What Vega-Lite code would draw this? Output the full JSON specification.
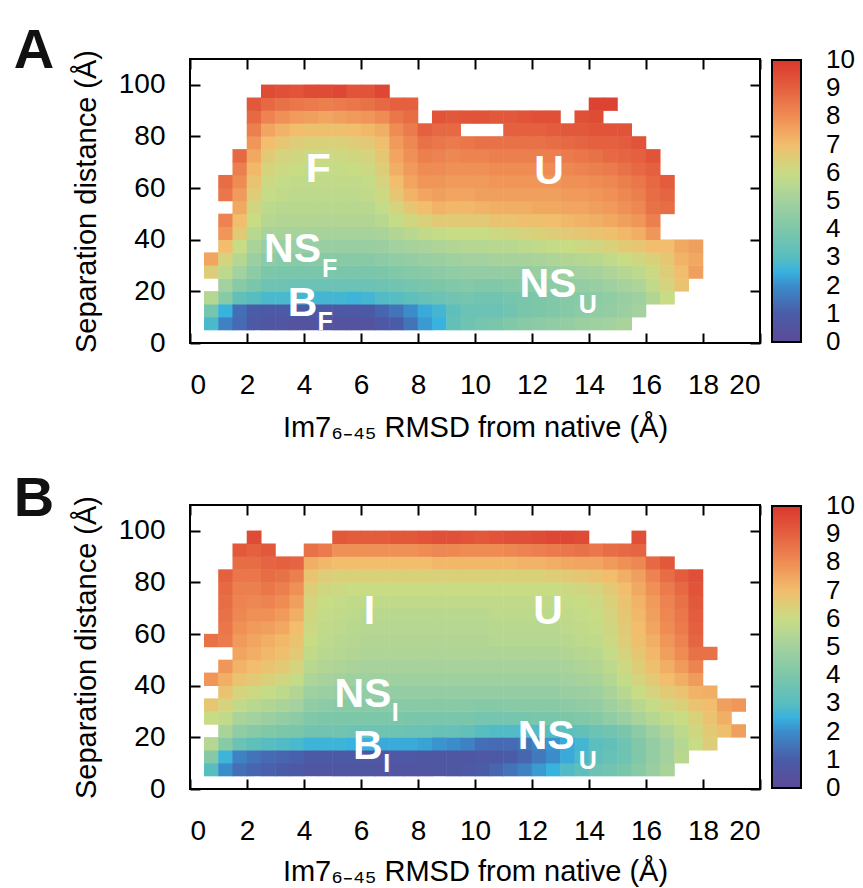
{
"$schema":"https://vega.github.io/schema/vega-lite/v6.json",
"padding":{"left":12,"top":22,"right":5,"bottom":0},
"config":{"font":"Liberation Sans","view":{"stroke":"black","strokeWidth":2},
"axis":{"grid":false,"domain":false,"tickColor":"black","tickWidth":2,"tickSize":-10,"labelColor":"black","labelFontSize":28,"titleFontSize":29,"titleFontWeight":"normal","titleColor":"black"}},
"datasets":{
"a":[
{"x":0.75,"y":7.5,"v":2.8},{"x":0.75,"y":12.5,"v":3.8},{"x":0.75,"y":17.5,"v":5.5},{"x":0.75,"y":27.5,"v":6.5},{"x":0.75,"y":32.5,"v":7.5},
{"x":1.25,"y":7.5,"v":1.8},{"x":1.25,"y":12.5,"v":2.5},{"x":1.25,"y":17.5,"v":4.3},{"x":1.25,"y":22.5,"v":5.0},{"x":1.25,"y":27.5,"v":5.7},{"x":1.25,"y":32.5,"v":6.3},{"x":1.25,"y":37.5,"v":7.0},{"x":1.25,"y":42.5,"v":7.8},{"x":1.25,"y":47.5,"v":8.2},{"x":1.25,"y":57.5,"v":8.5},{"x":1.25,"y":62.5,"v":8.7},
{"x":1.75,"y":7.5,"v":1.3},{"x":1.75,"y":12.5,"v":1.4},{"x":1.75,"y":17.5,"v":3.3},{"x":1.75,"y":22.5,"v":4.3},{"x":1.75,"y":27.5,"v":5.0},{"x":1.75,"y":32.5,"v":5.5},{"x":1.75,"y":37.5,"v":6.0},{"x":1.75,"y":42.5,"v":6.6},{"x":1.75,"y":47.5,"v":7.0},{"x":1.75,"y":52.5,"v":7.4},{"x":1.75,"y":57.5,"v":7.7},{"x":1.75,"y":62.5,"v":8.0},{"x":1.75,"y":67.5,"v":8.3},{"x":1.75,"y":72.5,"v":8.8},
{"x":2.25,"y":7.5,"v":0.9},{"x":2.25,"y":12.5,"v":1.0},{"x":2.25,"y":17.5,"v":3.0},{"x":2.25,"y":22.5,"v":3.9},{"x":2.25,"y":27.5,"v":4.4},{"x":2.25,"y":32.5,"v":4.8},{"x":2.25,"y":37.5,"v":5.2},{"x":2.25,"y":42.5,"v":5.6},{"x":2.25,"y":47.5,"v":6.0},{"x":2.25,"y":52.5,"v":6.2},{"x":2.25,"y":57.5,"v":6.5},{"x":2.25,"y":62.5,"v":6.8},{"x":2.25,"y":67.5,"v":7.1},{"x":2.25,"y":72.5,"v":7.4},{"x":2.25,"y":77.5,"v":7.8},{"x":2.25,"y":82.5,"v":8.3},{"x":2.25,"y":87.5,"v":8.8},{"x":2.25,"y":92.5,"v":9.2},
{"x":2.75,"y":7.5,"v":0.7},{"x":2.75,"y":12.5,"v":0.9},{"x":2.75,"y":17.5,"v":2.8},{"x":2.75,"y":22.5,"v":3.6},{"x":2.75,"y":27.5,"v":4.0},{"x":2.75,"y":32.5,"v":4.4},{"x":2.75,"y":37.5,"v":4.8},{"x":2.75,"y":42.5,"v":5.2},{"x":2.75,"y":47.5,"v":5.5},{"x":2.75,"y":52.5,"v":5.7},{"x":2.75,"y":57.5,"v":5.9},{"x":2.75,"y":62.5,"v":6.1},{"x":2.75,"y":67.5,"v":6.3},{"x":2.75,"y":72.5,"v":6.6},{"x":2.75,"y":77.5,"v":7.0},{"x":2.75,"y":82.5,"v":7.5},{"x":2.75,"y":87.5,"v":8.2},{"x":2.75,"y":92.5,"v":8.8},{"x":2.75,"y":97.5,"v":9.5},
{"x":3.25,"y":7.5,"v":0.6},{"x":3.25,"y":12.5,"v":0.9},{"x":3.25,"y":17.5,"v":2.8},{"x":3.25,"y":22.5,"v":3.6},{"x":3.25,"y":27.5,"v":3.9},{"x":3.25,"y":32.5,"v":4.3},{"x":3.25,"y":37.5,"v":4.7},{"x":3.25,"y":42.5,"v":5.1},{"x":3.25,"y":47.5,"v":5.4},{"x":3.25,"y":52.5,"v":5.6},{"x":3.25,"y":57.5,"v":5.8},{"x":3.25,"y":62.5,"v":5.9},{"x":3.25,"y":67.5,"v":6.1},{"x":3.25,"y":72.5,"v":6.3},{"x":3.25,"y":77.5,"v":6.7},{"x":3.25,"y":82.5,"v":7.2},{"x":3.25,"y":87.5,"v":7.9},{"x":3.25,"y":92.5,"v":8.6},{"x":3.25,"y":97.5,"v":9.4},
{"x":3.75,"y":7.5,"v":0.5},{"x":3.75,"y":12.5,"v":0.9},{"x":3.75,"y":17.5,"v":2.7},{"x":3.75,"y":22.5,"v":3.5},{"x":3.75,"y":27.5,"v":3.9},{"x":3.75,"y":32.5,"v":4.3},{"x":3.75,"y":37.5,"v":4.7},{"x":3.75,"y":42.5,"v":5.1},{"x":3.75,"y":47.5,"v":5.4},{"x":3.75,"y":52.5,"v":5.6},{"x":3.75,"y":57.5,"v":5.7},{"x":3.75,"y":62.5,"v":5.8},{"x":3.75,"y":67.5,"v":6.0},{"x":3.75,"y":72.5,"v":6.2},{"x":3.75,"y":77.5,"v":6.5},{"x":3.75,"y":82.5,"v":7.0},{"x":3.75,"y":87.5,"v":7.7},{"x":3.75,"y":92.5,"v":8.5},{"x":3.75,"y":97.5,"v":9.3},
{"x":4.25,"y":7.5,"v":0.5},{"x":4.25,"y":12.5,"v":0.8},{"x":4.25,"y":17.5,"v":2.7},{"x":4.25,"y":22.5,"v":3.5},{"x":4.25,"y":27.5,"v":3.9},{"x":4.25,"y":32.5,"v":4.3},{"x":4.25,"y":37.5,"v":4.7},{"x":4.25,"y":42.5,"v":5.1},{"x":4.25,"y":47.5,"v":5.4},{"x":4.25,"y":52.5,"v":5.6},{"x":4.25,"y":57.5,"v":5.7},{"x":4.25,"y":62.5,"v":5.8},{"x":4.25,"y":67.5,"v":5.9},{"x":4.25,"y":72.5,"v":6.1},{"x":4.25,"y":77.5,"v":6.4},{"x":4.25,"y":82.5,"v":6.9},{"x":4.25,"y":87.5,"v":7.6},{"x":4.25,"y":92.5,"v":8.4},{"x":4.25,"y":97.5,"v":9.5},
{"x":4.75,"y":7.5,"v":0.5},{"x":4.75,"y":12.5,"v":0.8},{"x":4.75,"y":17.5,"v":2.7},{"x":4.75,"y":22.5,"v":3.5},{"x":4.75,"y":27.5,"v":3.9},{"x":4.75,"y":32.5,"v":4.3},{"x":4.75,"y":37.5,"v":4.7},{"x":4.75,"y":42.5,"v":5.1},{"x":4.75,"y":47.5,"v":5.4},{"x":4.75,"y":52.5,"v":5.6},{"x":4.75,"y":57.5,"v":5.7},{"x":4.75,"y":62.5,"v":5.8},{"x":4.75,"y":67.5,"v":5.9},{"x":4.75,"y":72.5,"v":6.1},{"x":4.75,"y":77.5,"v":6.4},{"x":4.75,"y":82.5,"v":6.9},{"x":4.75,"y":87.5,"v":7.5},{"x":4.75,"y":92.5,"v":8.3},{"x":4.75,"y":97.5,"v":9.5},
{"x":5.25,"y":7.5,"v":0.5},{"x":5.25,"y":12.5,"v":0.8},{"x":5.25,"y":17.5,"v":2.7},{"x":5.25,"y":22.5,"v":3.5},{"x":5.25,"y":27.5,"v":3.9},{"x":5.25,"y":32.5,"v":4.3},{"x":5.25,"y":37.5,"v":4.7},{"x":5.25,"y":42.5,"v":5.1},{"x":5.25,"y":47.5,"v":5.4},{"x":5.25,"y":52.5,"v":5.6},{"x":5.25,"y":57.5,"v":5.7},{"x":5.25,"y":62.5,"v":5.8},{"x":5.25,"y":67.5,"v":5.9},{"x":5.25,"y":72.5,"v":6.1},{"x":5.25,"y":77.5,"v":6.4},{"x":5.25,"y":82.5,"v":6.9},{"x":5.25,"y":87.5,"v":7.6},{"x":5.25,"y":92.5,"v":8.4},{"x":5.25,"y":97.5,"v":9.6},
{"x":5.75,"y":7.5,"v":0.5},{"x":5.75,"y":12.5,"v":0.8},{"x":5.75,"y":17.5,"v":2.6},{"x":5.75,"y":22.5,"v":3.5},{"x":5.75,"y":27.5,"v":3.9},{"x":5.75,"y":32.5,"v":4.3},{"x":5.75,"y":37.5,"v":4.7},{"x":5.75,"y":42.5,"v":5.1},{"x":5.75,"y":47.5,"v":5.4},{"x":5.75,"y":52.5,"v":5.6},{"x":5.75,"y":57.5,"v":5.7},{"x":5.75,"y":62.5,"v":5.8},{"x":5.75,"y":67.5,"v":6.0},{"x":5.75,"y":72.5,"v":6.2},{"x":5.75,"y":77.5,"v":6.5},{"x":5.75,"y":82.5,"v":7.0},{"x":5.75,"y":87.5,"v":7.7},{"x":5.75,"y":92.5,"v":8.5},{"x":5.75,"y":97.5,"v":9.3},
{"x":6.25,"y":7.5,"v":0.5},{"x":6.25,"y":12.5,"v":0.9},{"x":6.25,"y":17.5,"v":2.7},{"x":6.25,"y":22.5,"v":3.5},{"x":6.25,"y":27.5,"v":3.9},{"x":6.25,"y":32.5,"v":4.3},{"x":6.25,"y":37.5,"v":4.7},{"x":6.25,"y":42.5,"v":5.1},{"x":6.25,"y":47.5,"v":5.4},{"x":6.25,"y":52.5,"v":5.6},{"x":6.25,"y":57.5,"v":5.8},{"x":6.25,"y":62.5,"v":5.9},{"x":6.25,"y":67.5,"v":6.1},{"x":6.25,"y":72.5,"v":6.3},{"x":6.25,"y":77.5,"v":6.6},{"x":6.25,"y":82.5,"v":7.1},{"x":6.25,"y":87.5,"v":7.8},{"x":6.25,"y":92.5,"v":8.6},{"x":6.25,"y":97.5,"v":9.3},
{"x":6.75,"y":7.5,"v":0.8},{"x":6.75,"y":12.5,"v":1.2},{"x":6.75,"y":17.5,"v":2.9},{"x":6.75,"y":22.5,"v":3.6},{"x":6.75,"y":27.5,"v":4.0},{"x":6.75,"y":32.5,"v":4.4},{"x":6.75,"y":37.5,"v":4.8},{"x":6.75,"y":42.5,"v":5.2},{"x":6.75,"y":47.5,"v":5.6},{"x":6.75,"y":52.5,"v":5.9},{"x":6.75,"y":57.5,"v":6.1},{"x":6.75,"y":62.5,"v":6.3},{"x":6.75,"y":67.5,"v":6.5},{"x":6.75,"y":72.5,"v":6.7},{"x":6.75,"y":77.5,"v":6.9},{"x":6.75,"y":82.5,"v":7.3},{"x":6.75,"y":87.5,"v":8.0},{"x":6.75,"y":92.5,"v":8.8},{"x":6.75,"y":97.5,"v":9.6},
{"x":7.25,"y":7.5,"v":1.0},{"x":7.25,"y":12.5,"v":1.5},{"x":7.25,"y":17.5,"v":3.0},{"x":7.25,"y":22.5,"v":3.7},{"x":7.25,"y":27.5,"v":4.1},{"x":7.25,"y":32.5,"v":4.5},{"x":7.25,"y":37.5,"v":5.0},{"x":7.25,"y":42.5,"v":5.4},{"x":7.25,"y":47.5,"v":5.9},{"x":7.25,"y":52.5,"v":6.3},{"x":7.25,"y":57.5,"v":6.7},{"x":7.25,"y":62.5,"v":7.0},{"x":7.25,"y":67.5,"v":7.3},{"x":7.25,"y":72.5,"v":7.5},{"x":7.25,"y":77.5,"v":7.7},{"x":7.25,"y":82.5,"v":8.0},{"x":7.25,"y":87.5,"v":8.5},{"x":7.25,"y":92.5,"v":9.0},
{"x":7.75,"y":7.5,"v":1.5},{"x":7.75,"y":12.5,"v":2.0},{"x":7.75,"y":17.5,"v":3.2},{"x":7.75,"y":22.5,"v":3.8},{"x":7.75,"y":27.5,"v":4.2},{"x":7.75,"y":32.5,"v":4.6},{"x":7.75,"y":37.5,"v":5.1},{"x":7.75,"y":42.5,"v":5.6},{"x":7.75,"y":47.5,"v":6.2},{"x":7.75,"y":52.5,"v":6.7},{"x":7.75,"y":57.5,"v":7.2},{"x":7.75,"y":62.5,"v":7.5},{"x":7.75,"y":67.5,"v":7.7},{"x":7.75,"y":72.5,"v":7.9},{"x":7.75,"y":77.5,"v":8.1},{"x":7.75,"y":82.5,"v":8.4},{"x":7.75,"y":87.5,"v":8.7},{"x":7.75,"y":92.5,"v":9.0},
{"x":8.25,"y":7.5,"v":2.2},{"x":8.25,"y":12.5,"v":2.4},{"x":8.25,"y":17.5,"v":3.4},{"x":8.25,"y":22.5,"v":3.9},{"x":8.25,"y":27.5,"v":4.3},{"x":8.25,"y":32.5,"v":4.7},{"x":8.25,"y":37.5,"v":5.2},{"x":8.25,"y":42.5,"v":5.8},{"x":8.25,"y":47.5,"v":6.4},{"x":8.25,"y":52.5,"v":7.0},{"x":8.25,"y":57.5,"v":7.5},{"x":8.25,"y":62.5,"v":7.8},{"x":8.25,"y":67.5,"v":8.0},{"x":8.25,"y":72.5,"v":8.3},{"x":8.25,"y":77.5,"v":8.6},{"x":8.25,"y":82.5,"v":9.0},
{"x":8.75,"y":7.5,"v":2.5},{"x":8.75,"y":12.5,"v":2.7},{"x":8.75,"y":17.5,"v":3.5},{"x":8.75,"y":22.5,"v":4.0},{"x":8.75,"y":27.5,"v":4.4},{"x":8.75,"y":32.5,"v":4.8},{"x":8.75,"y":37.5,"v":5.3},{"x":8.75,"y":42.5,"v":5.9},{"x":8.75,"y":47.5,"v":6.6},{"x":8.75,"y":52.5,"v":7.2},{"x":8.75,"y":57.5,"v":7.6},{"x":8.75,"y":62.5,"v":7.8},{"x":8.75,"y":67.5,"v":8.0},{"x":8.75,"y":72.5,"v":8.2},{"x":8.75,"y":77.5,"v":8.5},{"x":8.75,"y":82.5,"v":8.8},{"x":8.75,"y":87.5,"v":9.3},
{"x":9.25,"y":7.5,"v":3.3},{"x":9.25,"y":12.5,"v":3.2},{"x":9.25,"y":17.5,"v":3.7},{"x":9.25,"y":22.5,"v":4.1},{"x":9.25,"y":27.5,"v":4.5},{"x":9.25,"y":32.5,"v":4.9},{"x":9.25,"y":37.5,"v":5.4},{"x":9.25,"y":42.5,"v":6.0},{"x":9.25,"y":47.5,"v":6.6},{"x":9.25,"y":52.5,"v":7.1},{"x":9.25,"y":57.5,"v":7.5},{"x":9.25,"y":62.5,"v":7.7},{"x":9.25,"y":67.5,"v":7.9},{"x":9.25,"y":72.5,"v":8.1},{"x":9.25,"y":77.5,"v":8.4},{"x":9.25,"y":82.5,"v":8.8},{"x":9.25,"y":87.5,"v":9.2},
{"x":9.75,"y":7.5,"v":3.6},{"x":9.75,"y":12.5,"v":3.5},{"x":9.75,"y":17.5,"v":3.8},{"x":9.75,"y":22.5,"v":4.2},{"x":9.75,"y":27.5,"v":4.6},{"x":9.75,"y":32.5,"v":5.0},{"x":9.75,"y":37.5,"v":5.5},{"x":9.75,"y":42.5,"v":6.0},{"x":9.75,"y":47.5,"v":6.6},{"x":9.75,"y":52.5,"v":7.1},{"x":9.75,"y":57.5,"v":7.5},{"x":9.75,"y":62.5,"v":7.7},{"x":9.75,"y":67.5,"v":7.9},{"x":9.75,"y":72.5,"v":8.2},{"x":9.75,"y":77.5,"v":8.5},{"x":9.75,"y":87.5,"v":9.3},
{"x":10.25,"y":7.5,"v":3.8},{"x":10.25,"y":12.5,"v":3.5},{"x":10.25,"y":17.5,"v":3.7},{"x":10.25,"y":22.5,"v":4.1},{"x":10.25,"y":27.5,"v":4.6},{"x":10.25,"y":32.5,"v":5.0},{"x":10.25,"y":37.5,"v":5.5},{"x":10.25,"y":42.5,"v":6.0},{"x":10.25,"y":47.5,"v":6.6},{"x":10.25,"y":52.5,"v":7.2},{"x":10.25,"y":57.5,"v":7.6},{"x":10.25,"y":62.5,"v":7.7},{"x":10.25,"y":67.5,"v":7.9},{"x":10.25,"y":72.5,"v":8.2},{"x":10.25,"y":77.5,"v":8.6},{"x":10.25,"y":87.5,"v":9.3},
{"x":10.75,"y":7.5,"v":3.9},{"x":10.75,"y":12.5,"v":3.5},{"x":10.75,"y":17.5,"v":3.7},{"x":10.75,"y":22.5,"v":4.1},{"x":10.75,"y":27.5,"v":4.6},{"x":10.75,"y":32.5,"v":5.1},{"x":10.75,"y":37.5,"v":5.6},{"x":10.75,"y":42.5,"v":6.1},{"x":10.75,"y":47.5,"v":6.8},{"x":10.75,"y":52.5,"v":7.3},{"x":10.75,"y":57.5,"v":7.6},{"x":10.75,"y":62.5,"v":7.8},{"x":10.75,"y":67.5,"v":8.0},{"x":10.75,"y":72.5,"v":8.3},{"x":10.75,"y":77.5,"v":8.6},{"x":10.75,"y":87.5,"v":9.2},
{"x":11.25,"y":7.5,"v":4.1},{"x":11.25,"y":12.5,"v":3.7},{"x":11.25,"y":17.5,"v":3.8},{"x":11.25,"y":22.5,"v":4.2},{"x":11.25,"y":27.5,"v":4.6},{"x":11.25,"y":32.5,"v":5.1},{"x":11.25,"y":37.5,"v":5.6},{"x":11.25,"y":42.5,"v":6.2},{"x":11.25,"y":47.5,"v":6.8},{"x":11.25,"y":52.5,"v":7.3},{"x":11.25,"y":57.5,"v":7.6},{"x":11.25,"y":62.5,"v":7.8},{"x":11.25,"y":67.5,"v":8.0},{"x":11.25,"y":72.5,"v":8.3},{"x":11.25,"y":77.5,"v":8.6},{"x":11.25,"y":82.5,"v":9.0},{"x":11.25,"y":87.5,"v":9.2},
{"x":11.75,"y":7.5,"v":4.3},{"x":11.75,"y":12.5,"v":3.9},{"x":11.75,"y":17.5,"v":3.9},{"x":11.75,"y":22.5,"v":4.3},{"x":11.75,"y":27.5,"v":4.6},{"x":11.75,"y":32.5,"v":5.1},{"x":11.75,"y":37.5,"v":5.7},{"x":11.75,"y":42.5,"v":6.3},{"x":11.75,"y":47.5,"v":6.9},{"x":11.75,"y":52.5,"v":7.3},{"x":11.75,"y":57.5,"v":7.6},{"x":11.75,"y":62.5,"v":7.8},{"x":11.75,"y":67.5,"v":8.0},{"x":11.75,"y":72.5,"v":8.3},{"x":11.75,"y":77.5,"v":8.6},{"x":11.75,"y":82.5,"v":9.0},{"x":11.75,"y":87.5,"v":9.3},
{"x":12.25,"y":7.5,"v":4.4},{"x":12.25,"y":12.5,"v":4.0},{"x":12.25,"y":17.5,"v":4.0},{"x":12.25,"y":22.5,"v":4.3},{"x":12.25,"y":27.5,"v":4.7},{"x":12.25,"y":32.5,"v":5.2},{"x":12.25,"y":37.5,"v":5.8},{"x":12.25,"y":42.5,"v":6.4},{"x":12.25,"y":47.5,"v":6.9},{"x":12.25,"y":52.5,"v":7.4},{"x":12.25,"y":57.5,"v":7.6},{"x":12.25,"y":62.5,"v":7.8},{"x":12.25,"y":67.5,"v":8.0},{"x":12.25,"y":72.5,"v":8.3},{"x":12.25,"y":77.5,"v":8.6},{"x":12.25,"y":82.5,"v":9.0},{"x":12.25,"y":87.5,"v":9.4},
{"x":12.75,"y":7.5,"v":4.5},{"x":12.75,"y":12.5,"v":4.1},{"x":12.75,"y":17.5,"v":4.1},{"x":12.75,"y":22.5,"v":4.4},{"x":12.75,"y":27.5,"v":4.8},{"x":12.75,"y":32.5,"v":5.3},{"x":12.75,"y":37.5,"v":5.9},{"x":12.75,"y":42.5,"v":6.5},{"x":12.75,"y":47.5,"v":7.0},{"x":12.75,"y":52.5,"v":7.4},{"x":12.75,"y":57.5,"v":7.6},{"x":12.75,"y":62.5,"v":7.8},{"x":12.75,"y":67.5,"v":8.0},{"x":12.75,"y":72.5,"v":8.3},{"x":12.75,"y":77.5,"v":8.7},{"x":12.75,"y":82.5,"v":9.1},{"x":12.75,"y":87.5,"v":9.4},
{"x":13.25,"y":7.5,"v":4.6},{"x":13.25,"y":12.5,"v":4.2},{"x":13.25,"y":17.5,"v":4.2},{"x":13.25,"y":22.5,"v":4.5},{"x":13.25,"y":27.5,"v":4.9},{"x":13.25,"y":32.5,"v":5.4},{"x":13.25,"y":37.5,"v":6.0},{"x":13.25,"y":42.5,"v":6.6},{"x":13.25,"y":47.5,"v":7.1},{"x":13.25,"y":52.5,"v":7.5},{"x":13.25,"y":57.5,"v":7.7},{"x":13.25,"y":62.5,"v":7.9},{"x":13.25,"y":67.5,"v":8.1},{"x":13.25,"y":72.5,"v":8.4},{"x":13.25,"y":77.5,"v":8.8},{"x":13.25,"y":82.5,"v":9.2},
{"x":13.75,"y":7.5,"v":4.8},{"x":13.75,"y":12.5,"v":4.4},{"x":13.75,"y":17.5,"v":4.3},{"x":13.75,"y":22.5,"v":4.6},{"x":13.75,"y":27.5,"v":5.0},{"x":13.75,"y":32.5,"v":5.5},{"x":13.75,"y":37.5,"v":6.1},{"x":13.75,"y":42.5,"v":6.7},{"x":13.75,"y":47.5,"v":7.2},{"x":13.75,"y":52.5,"v":7.5},{"x":13.75,"y":57.5,"v":7.7},{"x":13.75,"y":62.5,"v":7.9},{"x":13.75,"y":67.5,"v":8.2},{"x":13.75,"y":72.5,"v":8.5},{"x":13.75,"y":77.5,"v":8.9},{"x":13.75,"y":82.5,"v":9.2},{"x":13.75,"y":87.5,"v":9.4},
{"x":14.25,"y":7.5,"v":4.9},{"x":14.25,"y":12.5,"v":4.5},{"x":14.25,"y":17.5,"v":4.4},{"x":14.25,"y":22.5,"v":4.7},{"x":14.25,"y":27.5,"v":5.1},{"x":14.25,"y":32.5,"v":5.6},{"x":14.25,"y":37.5,"v":6.2},{"x":14.25,"y":42.5,"v":6.8},{"x":14.25,"y":47.5,"v":7.3},{"x":14.25,"y":52.5,"v":7.6},{"x":14.25,"y":57.5,"v":7.8},{"x":14.25,"y":62.5,"v":8.0},{"x":14.25,"y":67.5,"v":8.3},{"x":14.25,"y":72.5,"v":8.6},{"x":14.25,"y":77.5,"v":9.0},{"x":14.25,"y":82.5,"v":9.3},{"x":14.25,"y":87.5,"v":9.5},{"x":14.25,"y":92.5,"v":9.7},
{"x":14.75,"y":7.5,"v":5.0},{"x":14.75,"y":12.5,"v":4.6},{"x":14.75,"y":17.5,"v":4.5},{"x":14.75,"y":22.5,"v":4.9},{"x":14.75,"y":27.5,"v":5.3},{"x":14.75,"y":32.5,"v":5.8},{"x":14.75,"y":37.5,"v":6.4},{"x":14.75,"y":42.5,"v":6.9},{"x":14.75,"y":47.5,"v":7.4},{"x":14.75,"y":52.5,"v":7.7},{"x":14.75,"y":57.5,"v":7.9},{"x":14.75,"y":62.5,"v":8.1},{"x":14.75,"y":67.5,"v":8.4},{"x":14.75,"y":72.5,"v":8.8},{"x":14.75,"y":77.5,"v":9.0},{"x":14.75,"y":82.5,"v":9.3},{"x":14.75,"y":92.5,"v":9.7},
{"x":15.25,"y":7.5,"v":5.2},{"x":15.25,"y":12.5,"v":4.8},{"x":15.25,"y":17.5,"v":4.7},{"x":15.25,"y":22.5,"v":5.1},{"x":15.25,"y":27.5,"v":5.5},{"x":15.25,"y":32.5,"v":6.0},{"x":15.25,"y":37.5,"v":6.6},{"x":15.25,"y":42.5,"v":7.1},{"x":15.25,"y":47.5,"v":7.6},{"x":15.25,"y":52.5,"v":7.9},{"x":15.25,"y":57.5,"v":8.1},{"x":15.25,"y":62.5,"v":8.3},{"x":15.25,"y":67.5,"v":8.6},{"x":15.25,"y":72.5,"v":8.9},{"x":15.25,"y":77.5,"v":9.1},{"x":15.25,"y":82.5,"v":9.3},
{"x":15.75,"y":12.5,"v":5.0},{"x":15.75,"y":17.5,"v":4.9},{"x":15.75,"y":22.5,"v":5.3},{"x":15.75,"y":27.5,"v":5.7},{"x":15.75,"y":32.5,"v":6.2},{"x":15.75,"y":37.5,"v":6.7},{"x":15.75,"y":42.5,"v":7.3},{"x":15.75,"y":47.5,"v":7.8},{"x":15.75,"y":52.5,"v":8.1},{"x":15.75,"y":57.5,"v":8.3},{"x":15.75,"y":62.5,"v":8.5},{"x":15.75,"y":67.5,"v":8.8},{"x":15.75,"y":72.5,"v":9.0},{"x":15.75,"y":77.5,"v":9.3},
{"x":16.25,"y":17.5,"v":5.4},{"x":16.25,"y":22.5,"v":5.8},{"x":16.25,"y":27.5,"v":6.1},{"x":16.25,"y":32.5,"v":6.4},{"x":16.25,"y":37.5,"v":7.0},{"x":16.25,"y":42.5,"v":7.8},{"x":16.25,"y":47.5,"v":8.3},{"x":16.25,"y":52.5,"v":8.6},{"x":16.25,"y":57.5,"v":8.7},{"x":16.25,"y":62.5,"v":8.8},{"x":16.25,"y":67.5,"v":9.0},{"x":16.25,"y":72.5,"v":9.3},
{"x":16.75,"y":17.5,"v":6.0},{"x":16.75,"y":22.5,"v":6.3},{"x":16.75,"y":27.5,"v":6.5},{"x":16.75,"y":32.5,"v":6.7},{"x":16.75,"y":37.5,"v":7.0},{"x":16.75,"y":52.5,"v":8.7},{"x":16.75,"y":57.5,"v":8.9},{"x":16.75,"y":62.5,"v":9.1},
{"x":17.25,"y":22.5,"v":6.8},{"x":17.25,"y":27.5,"v":7.0},{"x":17.25,"y":32.5,"v":7.2},{"x":17.25,"y":37.5,"v":7.4},
{"x":17.75,"y":27.5,"v":7.6},{"x":17.75,"y":32.5,"v":7.4},{"x":17.75,"y":37.5,"v":7.6}
],
"b":[
{"x":0.75,"y":7.5,"v":3.0},{"x":0.75,"y":12.5,"v":4.2},{"x":0.75,"y":17.5,"v":5.5},{"x":0.75,"y":27.5,"v":6.0},{"x":0.75,"y":32.5,"v":6.7},{"x":0.75,"y":42.5,"v":7.8},{"x":0.75,"y":57.5,"v":8.6},
{"x":1.25,"y":7.5,"v":2.0},{"x":1.25,"y":12.5,"v":2.6},{"x":1.25,"y":17.5,"v":4.3},{"x":1.25,"y":22.5,"v":5.2},{"x":1.25,"y":27.5,"v":5.8},{"x":1.25,"y":32.5,"v":6.3},{"x":1.25,"y":37.5,"v":6.8},{"x":1.25,"y":42.5,"v":7.3},{"x":1.25,"y":47.5,"v":7.8},{"x":1.25,"y":57.5,"v":8.4},{"x":1.25,"y":62.5,"v":8.5},{"x":1.25,"y":67.5,"v":8.6},{"x":1.25,"y":72.5,"v":8.7},{"x":1.25,"y":77.5,"v":8.8},{"x":1.25,"y":82.5,"v":9.0},
{"x":1.75,"y":7.5,"v":1.4},{"x":1.75,"y":12.5,"v":1.8},{"x":1.75,"y":17.5,"v":3.5},{"x":1.75,"y":22.5,"v":4.5},{"x":1.75,"y":27.5,"v":5.2},{"x":1.75,"y":32.5,"v":5.8},{"x":1.75,"y":37.5,"v":6.3},{"x":1.75,"y":42.5,"v":6.8},{"x":1.75,"y":47.5,"v":7.2},{"x":1.75,"y":52.5,"v":7.5},{"x":1.75,"y":57.5,"v":7.7},{"x":1.75,"y":62.5,"v":7.9},{"x":1.75,"y":67.5,"v":8.1},{"x":1.75,"y":72.5,"v":8.2},{"x":1.75,"y":77.5,"v":8.3},{"x":1.75,"y":82.5,"v":8.5},{"x":1.75,"y":87.5,"v":8.7},{"x":1.75,"y":92.5,"v":9.2},
{"x":2.25,"y":7.5,"v":1.2},{"x":2.25,"y":12.5,"v":1.5},{"x":2.25,"y":17.5,"v":3.2},{"x":2.25,"y":22.5,"v":4.3},{"x":2.25,"y":27.5,"v":5.0},{"x":2.25,"y":32.5,"v":5.6},{"x":2.25,"y":37.5,"v":6.1},{"x":2.25,"y":42.5,"v":6.6},{"x":2.25,"y":47.5,"v":7.0},{"x":2.25,"y":52.5,"v":7.3},{"x":2.25,"y":57.5,"v":7.5},{"x":2.25,"y":62.5,"v":7.7},{"x":2.25,"y":67.5,"v":7.9},{"x":2.25,"y":72.5,"v":8.1},{"x":2.25,"y":77.5,"v":8.3},{"x":2.25,"y":82.5,"v":8.5},{"x":2.25,"y":87.5,"v":8.7},{"x":2.25,"y":92.5,"v":9.0},{"x":2.25,"y":97.5,"v":9.5},
{"x":2.75,"y":7.5,"v":1.1},{"x":2.75,"y":12.5,"v":1.3},{"x":2.75,"y":17.5,"v":3.0},{"x":2.75,"y":22.5,"v":4.1},{"x":2.75,"y":27.5,"v":4.8},{"x":2.75,"y":32.5,"v":5.4},{"x":2.75,"y":37.5,"v":5.9},{"x":2.75,"y":42.5,"v":6.4},{"x":2.75,"y":47.5,"v":6.8},{"x":2.75,"y":52.5,"v":7.1},{"x":2.75,"y":57.5,"v":7.3},{"x":2.75,"y":62.5,"v":7.6},{"x":2.75,"y":67.5,"v":7.9},{"x":2.75,"y":72.5,"v":8.2},{"x":2.75,"y":77.5,"v":8.5},{"x":2.75,"y":82.5,"v":8.7},{"x":2.75,"y":87.5,"v":8.9},{"x":2.75,"y":92.5,"v":9.2},
{"x":3.25,"y":7.5,"v":1.0},{"x":3.25,"y":12.5,"v":1.2},{"x":3.25,"y":17.5,"v":2.9},{"x":3.25,"y":22.5,"v":4.0},{"x":3.25,"y":27.5,"v":4.6},{"x":3.25,"y":32.5,"v":5.2},{"x":3.25,"y":37.5,"v":5.7},{"x":3.25,"y":42.5,"v":6.2},{"x":3.25,"y":47.5,"v":6.6},{"x":3.25,"y":52.5,"v":6.9},{"x":3.25,"y":57.5,"v":7.1},{"x":3.25,"y":62.5,"v":7.4},{"x":3.25,"y":67.5,"v":7.7},{"x":3.25,"y":72.5,"v":8.0},{"x":3.25,"y":77.5,"v":8.3},{"x":3.25,"y":82.5,"v":8.6},{"x":3.25,"y":87.5,"v":9.0},
{"x":3.75,"y":7.5,"v":0.9},{"x":3.75,"y":12.5,"v":1.1},{"x":3.75,"y":17.5,"v":2.8},{"x":3.75,"y":22.5,"v":3.9},{"x":3.75,"y":27.5,"v":4.4},{"x":3.75,"y":32.5,"v":5.0},{"x":3.75,"y":37.5,"v":5.4},{"x":3.75,"y":42.5,"v":5.9},{"x":3.75,"y":47.5,"v":6.3},{"x":3.75,"y":52.5,"v":6.6},{"x":3.75,"y":57.5,"v":6.8},{"x":3.75,"y":62.5,"v":7.0},{"x":3.75,"y":67.5,"v":7.3},{"x":3.75,"y":72.5,"v":7.6},{"x":3.75,"y":77.5,"v":7.9},{"x":3.75,"y":82.5,"v":8.3},{"x":3.75,"y":87.5,"v":8.9},
{"x":4.25,"y":7.5,"v":0.7},{"x":4.25,"y":12.5,"v":0.9},{"x":4.25,"y":17.5,"v":2.6},{"x":4.25,"y":22.5,"v":3.7},{"x":4.25,"y":27.5,"v":4.1},{"x":4.25,"y":32.5,"v":4.5},{"x":4.25,"y":37.5,"v":4.9},{"x":4.25,"y":42.5,"v":5.3},{"x":4.25,"y":47.5,"v":5.6},{"x":4.25,"y":52.5,"v":5.8},{"x":4.25,"y":57.5,"v":6.0},{"x":4.25,"y":62.5,"v":6.1},{"x":4.25,"y":67.5,"v":6.2},{"x":4.25,"y":72.5,"v":6.3},{"x":4.25,"y":77.5,"v":6.5},{"x":4.25,"y":82.5,"v":6.8},{"x":4.25,"y":87.5,"v":7.3},{"x":4.25,"y":92.5,"v":8.6},
{"x":4.75,"y":7.5,"v":0.7},{"x":4.75,"y":12.5,"v":0.9},{"x":4.75,"y":17.5,"v":2.6},{"x":4.75,"y":22.5,"v":3.7},{"x":4.75,"y":27.5,"v":4.0},{"x":4.75,"y":32.5,"v":4.4},{"x":4.75,"y":37.5,"v":4.8},{"x":4.75,"y":42.5,"v":5.1},{"x":4.75,"y":47.5,"v":5.4},{"x":4.75,"y":52.5,"v":5.6},{"x":4.75,"y":57.5,"v":5.7},{"x":4.75,"y":62.5,"v":5.8},{"x":4.75,"y":67.5,"v":5.9},{"x":4.75,"y":72.5,"v":6.0},{"x":4.75,"y":77.5,"v":6.2},{"x":4.75,"y":82.5,"v":6.5},{"x":4.75,"y":87.5,"v":7.1},{"x":4.75,"y":92.5,"v":8.4},
{"x":5.25,"y":7.5,"v":0.7},{"x":5.25,"y":12.5,"v":0.9},{"x":5.25,"y":17.5,"v":2.6},{"x":5.25,"y":22.5,"v":3.7},{"x":5.25,"y":27.5,"v":4.0},{"x":5.25,"y":32.5,"v":4.3},{"x":5.25,"y":37.5,"v":4.7},{"x":5.25,"y":42.5,"v":5.0},{"x":5.25,"y":47.5,"v":5.3},{"x":5.25,"y":52.5,"v":5.5},{"x":5.25,"y":57.5,"v":5.6},{"x":5.25,"y":62.5,"v":5.7},{"x":5.25,"y":67.5,"v":5.8},{"x":5.25,"y":72.5,"v":5.9},{"x":5.25,"y":77.5,"v":6.1},{"x":5.25,"y":82.5,"v":6.4},{"x":5.25,"y":87.5,"v":7.0},{"x":5.25,"y":92.5,"v":7.9},{"x":5.25,"y":97.5,"v":9.2},
{"x":5.75,"y":7.5,"v":0.7},{"x":5.75,"y":12.5,"v":0.9},{"x":5.75,"y":17.5,"v":2.5},{"x":5.75,"y":22.5,"v":3.6},{"x":5.75,"y":27.5,"v":4.0},{"x":5.75,"y":32.5,"v":4.3},{"x":5.75,"y":37.5,"v":4.6},{"x":5.75,"y":42.5,"v":4.9},{"x":5.75,"y":47.5,"v":5.2},{"x":5.75,"y":52.5,"v":5.4},{"x":5.75,"y":57.5,"v":5.5},{"x":5.75,"y":62.5,"v":5.6},{"x":5.75,"y":67.5,"v":5.7},{"x":5.75,"y":72.5,"v":5.8},{"x":5.75,"y":77.5,"v":6.0},{"x":5.75,"y":82.5,"v":6.4},{"x":5.75,"y":87.5,"v":7.0},{"x":5.75,"y":92.5,"v":7.9},{"x":5.75,"y":97.5,"v":9.1},
{"x":6.25,"y":7.5,"v":0.7},{"x":6.25,"y":12.5,"v":0.8},{"x":6.25,"y":17.5,"v":2.5},{"x":6.25,"y":22.5,"v":3.6},{"x":6.25,"y":27.5,"v":4.0},{"x":6.25,"y":32.5,"v":4.3},{"x":6.25,"y":37.5,"v":4.6},{"x":6.25,"y":42.5,"v":4.9},{"x":6.25,"y":47.5,"v":5.1},{"x":6.25,"y":52.5,"v":5.3},{"x":6.25,"y":57.5,"v":5.4},{"x":6.25,"y":62.5,"v":5.5},{"x":6.25,"y":67.5,"v":5.6},{"x":6.25,"y":72.5,"v":5.8},{"x":6.25,"y":77.5,"v":6.0},{"x":6.25,"y":82.5,"v":6.4},{"x":6.25,"y":87.5,"v":7.0},{"x":6.25,"y":92.5,"v":7.9},{"x":6.25,"y":97.5,"v":9.1},
{"x":6.75,"y":7.5,"v":0.6},{"x":6.75,"y":12.5,"v":0.8},{"x":6.75,"y":17.5,"v":2.4},{"x":6.75,"y":22.5,"v":3.6},{"x":6.75,"y":27.5,"v":4.0},{"x":6.75,"y":32.5,"v":4.3},{"x":6.75,"y":37.5,"v":4.6},{"x":6.75,"y":42.5,"v":4.9},{"x":6.75,"y":47.5,"v":5.1},{"x":6.75,"y":52.5,"v":5.3},{"x":6.75,"y":57.5,"v":5.4},{"x":6.75,"y":62.5,"v":5.5},{"x":6.75,"y":67.5,"v":5.6},{"x":6.75,"y":72.5,"v":5.8},{"x":6.75,"y":77.5,"v":6.0},{"x":6.75,"y":82.5,"v":6.4},{"x":6.75,"y":87.5,"v":7.0},{"x":6.75,"y":92.5,"v":7.9},{"x":6.75,"y":97.5,"v":9.1},
{"x":7.25,"y":7.5,"v":0.6},{"x":7.25,"y":12.5,"v":0.8},{"x":7.25,"y":17.5,"v":2.4},{"x":7.25,"y":22.5,"v":3.6},{"x":7.25,"y":27.5,"v":4.0},{"x":7.25,"y":32.5,"v":4.3},{"x":7.25,"y":37.5,"v":4.6},{"x":7.25,"y":42.5,"v":4.9},{"x":7.25,"y":47.5,"v":5.1},{"x":7.25,"y":52.5,"v":5.3},{"x":7.25,"y":57.5,"v":5.4},{"x":7.25,"y":62.5,"v":5.5},{"x":7.25,"y":67.5,"v":5.6},{"x":7.25,"y":72.5,"v":5.8},{"x":7.25,"y":77.5,"v":6.0},{"x":7.25,"y":82.5,"v":6.4},{"x":7.25,"y":87.5,"v":7.0},{"x":7.25,"y":92.5,"v":7.9},{"x":7.25,"y":97.5,"v":9.2},
{"x":7.75,"y":7.5,"v":0.6},{"x":7.75,"y":12.5,"v":0.8},{"x":7.75,"y":17.5,"v":2.4},{"x":7.75,"y":22.5,"v":3.5},{"x":7.75,"y":27.5,"v":3.9},{"x":7.75,"y":32.5,"v":4.3},{"x":7.75,"y":37.5,"v":4.6},{"x":7.75,"y":42.5,"v":4.9},{"x":7.75,"y":47.5,"v":5.1},{"x":7.75,"y":52.5,"v":5.3},{"x":7.75,"y":57.5,"v":5.4},{"x":7.75,"y":62.5,"v":5.5},{"x":7.75,"y":67.5,"v":5.6},{"x":7.75,"y":72.5,"v":5.8},{"x":7.75,"y":77.5,"v":6.0},{"x":7.75,"y":82.5,"v":6.4},{"x":7.75,"y":87.5,"v":7.0},{"x":7.75,"y":92.5,"v":7.9},{"x":7.75,"y":97.5,"v":9.2},
{"x":8.25,"y":7.5,"v":0.6},{"x":8.25,"y":12.5,"v":0.7},{"x":8.25,"y":17.5,"v":2.3},{"x":8.25,"y":22.5,"v":3.5},{"x":8.25,"y":27.5,"v":3.9},{"x":8.25,"y":32.5,"v":4.3},{"x":8.25,"y":37.5,"v":4.6},{"x":8.25,"y":42.5,"v":4.9},{"x":8.25,"y":47.5,"v":5.1},{"x":8.25,"y":52.5,"v":5.3},{"x":8.25,"y":57.5,"v":5.4},{"x":8.25,"y":62.5,"v":5.5},{"x":8.25,"y":67.5,"v":5.6},{"x":8.25,"y":72.5,"v":5.8},{"x":8.25,"y":77.5,"v":6.0},{"x":8.25,"y":82.5,"v":6.4},{"x":8.25,"y":87.5,"v":7.0},{"x":8.25,"y":92.5,"v":8.0},{"x":8.25,"y":97.5,"v":9.3},
{"x":8.75,"y":7.5,"v":0.7},{"x":8.75,"y":12.5,"v":0.7},{"x":8.75,"y":17.5,"v":2.1},{"x":8.75,"y":22.5,"v":3.4},{"x":8.75,"y":27.5,"v":3.9},{"x":8.75,"y":32.5,"v":4.3},{"x":8.75,"y":37.5,"v":4.6},{"x":8.75,"y":42.5,"v":4.9},{"x":8.75,"y":47.5,"v":5.1},{"x":8.75,"y":52.5,"v":5.3},{"x":8.75,"y":57.5,"v":5.4},{"x":8.75,"y":62.5,"v":5.5},{"x":8.75,"y":67.5,"v":5.6},{"x":8.75,"y":72.5,"v":5.8},{"x":8.75,"y":77.5,"v":6.0},{"x":8.75,"y":82.5,"v":6.4},{"x":8.75,"y":87.5,"v":7.1},{"x":8.75,"y":92.5,"v":8.1},{"x":8.75,"y":97.5,"v":9.4},
{"x":9.25,"y":7.5,"v":0.7},{"x":9.25,"y":12.5,"v":0.7},{"x":9.25,"y":17.5,"v":2.0},{"x":9.25,"y":22.5,"v":3.4},{"x":9.25,"y":27.5,"v":3.9},{"x":9.25,"y":32.5,"v":4.3},{"x":9.25,"y":37.5,"v":4.6},{"x":9.25,"y":42.5,"v":4.9},{"x":9.25,"y":47.5,"v":5.1},{"x":9.25,"y":52.5,"v":5.3},{"x":9.25,"y":57.5,"v":5.4},{"x":9.25,"y":62.5,"v":5.5},{"x":9.25,"y":67.5,"v":5.6},{"x":9.25,"y":72.5,"v":5.8},{"x":9.25,"y":77.5,"v":6.0},{"x":9.25,"y":82.5,"v":6.4},{"x":9.25,"y":87.5,"v":7.1},{"x":9.25,"y":92.5,"v":8.1},{"x":9.25,"y":97.5,"v":9.4},
{"x":9.75,"y":7.5,"v":0.8},{"x":9.75,"y":12.5,"v":0.7},{"x":9.75,"y":17.5,"v":1.8},{"x":9.75,"y":22.5,"v":3.3},{"x":9.75,"y":27.5,"v":3.9},{"x":9.75,"y":32.5,"v":4.3},{"x":9.75,"y":37.5,"v":4.6},{"x":9.75,"y":42.5,"v":4.9},{"x":9.75,"y":47.5,"v":5.1},{"x":9.75,"y":52.5,"v":5.3},{"x":9.75,"y":57.5,"v":5.4},{"x":9.75,"y":62.5,"v":5.5},{"x":9.75,"y":67.5,"v":5.6},{"x":9.75,"y":72.5,"v":5.8},{"x":9.75,"y":77.5,"v":6.0},{"x":9.75,"y":82.5,"v":6.4},{"x":9.75,"y":87.5,"v":7.1},{"x":9.75,"y":92.5,"v":8.0},{"x":9.75,"y":97.5,"v":9.3},
{"x":10.25,"y":7.5,"v":1.0},{"x":10.25,"y":12.5,"v":0.8},{"x":10.25,"y":17.5,"v":1.4},{"x":10.25,"y":22.5,"v":3.0},{"x":10.25,"y":27.5,"v":3.8},{"x":10.25,"y":32.5,"v":4.2},{"x":10.25,"y":37.5,"v":4.6},{"x":10.25,"y":42.5,"v":4.9},{"x":10.25,"y":47.5,"v":5.1},{"x":10.25,"y":52.5,"v":5.3},{"x":10.25,"y":57.5,"v":5.4},{"x":10.25,"y":62.5,"v":5.5},{"x":10.25,"y":67.5,"v":5.6},{"x":10.25,"y":72.5,"v":5.8},{"x":10.25,"y":77.5,"v":6.0},{"x":10.25,"y":82.5,"v":6.4},{"x":10.25,"y":87.5,"v":7.1},{"x":10.25,"y":92.5,"v":8.0},{"x":10.25,"y":97.5,"v":9.2},
{"x":10.75,"y":7.5,"v":1.2},{"x":10.75,"y":12.5,"v":0.9},{"x":10.75,"y":17.5,"v":1.3},{"x":10.75,"y":22.5,"v":2.9},{"x":10.75,"y":27.5,"v":3.8},{"x":10.75,"y":32.5,"v":4.2},{"x":10.75,"y":37.5,"v":4.6},{"x":10.75,"y":42.5,"v":4.9},{"x":10.75,"y":47.5,"v":5.1},{"x":10.75,"y":52.5,"v":5.3},{"x":10.75,"y":57.5,"v":5.5},{"x":10.75,"y":62.5,"v":5.6},{"x":10.75,"y":67.5,"v":5.7},{"x":10.75,"y":72.5,"v":5.8},{"x":10.75,"y":77.5,"v":6.0},{"x":10.75,"y":82.5,"v":6.4},{"x":10.75,"y":87.5,"v":7.1},{"x":10.75,"y":92.5,"v":8.0},{"x":10.75,"y":97.5,"v":9.3},
{"x":11.25,"y":7.5,"v":1.5},{"x":11.25,"y":12.5,"v":1.0},{"x":11.25,"y":17.5,"v":1.3},{"x":11.25,"y":22.5,"v":2.9},{"x":11.25,"y":27.5,"v":3.8},{"x":11.25,"y":32.5,"v":4.3},{"x":11.25,"y":37.5,"v":4.6},{"x":11.25,"y":42.5,"v":4.9},{"x":11.25,"y":47.5,"v":5.1},{"x":11.25,"y":52.5,"v":5.3},{"x":11.25,"y":57.5,"v":5.5},{"x":11.25,"y":62.5,"v":5.6},{"x":11.25,"y":67.5,"v":5.7},{"x":11.25,"y":72.5,"v":5.8},{"x":11.25,"y":77.5,"v":6.0},{"x":11.25,"y":82.5,"v":6.4},{"x":11.25,"y":87.5,"v":7.1},{"x":11.25,"y":92.5,"v":8.1},{"x":11.25,"y":97.5,"v":9.4},
{"x":11.75,"y":7.5,"v":1.8},{"x":11.75,"y":12.5,"v":1.2},{"x":11.75,"y":17.5,"v":1.5},{"x":11.75,"y":22.5,"v":2.9},{"x":11.75,"y":27.5,"v":3.8},{"x":11.75,"y":32.5,"v":4.3},{"x":11.75,"y":37.5,"v":4.6},{"x":11.75,"y":42.5,"v":4.9},{"x":11.75,"y":47.5,"v":5.1},{"x":11.75,"y":52.5,"v":5.3},{"x":11.75,"y":57.5,"v":5.5},{"x":11.75,"y":62.5,"v":5.6},{"x":11.75,"y":67.5,"v":5.7},{"x":11.75,"y":72.5,"v":5.8},{"x":11.75,"y":77.5,"v":6.0},{"x":11.75,"y":82.5,"v":6.4},{"x":11.75,"y":87.5,"v":7.2},{"x":11.75,"y":92.5,"v":8.2},{"x":11.75,"y":97.5,"v":9.4},
{"x":12.25,"y":7.5,"v":2.2},{"x":12.25,"y":12.5,"v":1.6},{"x":12.25,"y":17.5,"v":1.8},{"x":12.25,"y":22.5,"v":2.9},{"x":12.25,"y":27.5,"v":3.9},{"x":12.25,"y":32.5,"v":4.3},{"x":12.25,"y":37.5,"v":4.6},{"x":12.25,"y":42.5,"v":4.9},{"x":12.25,"y":47.5,"v":5.1},{"x":12.25,"y":52.5,"v":5.3},{"x":12.25,"y":57.5,"v":5.5},{"x":12.25,"y":62.5,"v":5.6},{"x":12.25,"y":67.5,"v":5.7},{"x":12.25,"y":72.5,"v":5.8},{"x":12.25,"y":77.5,"v":6.0},{"x":12.25,"y":82.5,"v":6.4},{"x":12.25,"y":87.5,"v":7.2},{"x":12.25,"y":92.5,"v":8.3},{"x":12.25,"y":97.5,"v":9.5},
{"x":12.75,"y":7.5,"v":2.5},{"x":12.75,"y":12.5,"v":2.0},{"x":12.75,"y":17.5,"v":2.1},{"x":12.75,"y":22.5,"v":3.0},{"x":12.75,"y":27.5,"v":3.9},{"x":12.75,"y":32.5,"v":4.3},{"x":12.75,"y":37.5,"v":4.6},{"x":12.75,"y":42.5,"v":4.9},{"x":12.75,"y":47.5,"v":5.1},{"x":12.75,"y":52.5,"v":5.3},{"x":12.75,"y":57.5,"v":5.5},{"x":12.75,"y":62.5,"v":5.6},{"x":12.75,"y":67.5,"v":5.7},{"x":12.75,"y":72.5,"v":5.8},{"x":12.75,"y":77.5,"v":6.0},{"x":12.75,"y":82.5,"v":6.5},{"x":12.75,"y":87.5,"v":7.3},{"x":12.75,"y":92.5,"v":8.4},{"x":12.75,"y":97.5,"v":9.6},
{"x":13.25,"y":7.5,"v":2.9},{"x":13.25,"y":12.5,"v":2.4},{"x":13.25,"y":17.5,"v":2.4},{"x":13.25,"y":22.5,"v":3.1},{"x":13.25,"y":27.5,"v":4.0},{"x":13.25,"y":32.5,"v":4.4},{"x":13.25,"y":37.5,"v":4.7},{"x":13.25,"y":42.5,"v":5.0},{"x":13.25,"y":47.5,"v":5.2},{"x":13.25,"y":52.5,"v":5.4},{"x":13.25,"y":57.5,"v":5.6},{"x":13.25,"y":62.5,"v":5.7},{"x":13.25,"y":67.5,"v":5.8},{"x":13.25,"y":72.5,"v":5.9},{"x":13.25,"y":77.5,"v":6.1},{"x":13.25,"y":82.5,"v":6.6},{"x":13.25,"y":87.5,"v":7.4},{"x":13.25,"y":92.5,"v":8.5},{"x":13.25,"y":97.5,"v":9.6},
{"x":13.75,"y":7.5,"v":3.2},{"x":13.75,"y":12.5,"v":2.8},{"x":13.75,"y":17.5,"v":2.7},{"x":13.75,"y":22.5,"v":3.3},{"x":13.75,"y":27.5,"v":4.1},{"x":13.75,"y":32.5,"v":4.5},{"x":13.75,"y":37.5,"v":4.8},{"x":13.75,"y":42.5,"v":5.1},{"x":13.75,"y":47.5,"v":5.3},{"x":13.75,"y":52.5,"v":5.5},{"x":13.75,"y":57.5,"v":5.7},{"x":13.75,"y":62.5,"v":5.8},{"x":13.75,"y":67.5,"v":5.9},{"x":13.75,"y":72.5,"v":6.0},{"x":13.75,"y":77.5,"v":6.2},{"x":13.75,"y":82.5,"v":6.7},{"x":13.75,"y":87.5,"v":7.5},{"x":13.75,"y":92.5,"v":8.6},{"x":13.75,"y":97.5,"v":9.5},
{"x":14.25,"y":7.5,"v":3.5},{"x":14.25,"y":12.5,"v":3.2},{"x":14.25,"y":17.5,"v":3.1},{"x":14.25,"y":22.5,"v":3.5},{"x":14.25,"y":27.5,"v":4.2},{"x":14.25,"y":32.5,"v":4.6},{"x":14.25,"y":37.5,"v":4.9},{"x":14.25,"y":42.5,"v":5.2},{"x":14.25,"y":47.5,"v":5.4},{"x":14.25,"y":52.5,"v":5.6},{"x":14.25,"y":57.5,"v":5.8},{"x":14.25,"y":62.5,"v":5.9},{"x":14.25,"y":67.5,"v":6.0},{"x":14.25,"y":72.5,"v":6.1},{"x":14.25,"y":77.5,"v":6.3},{"x":14.25,"y":82.5,"v":6.8},{"x":14.25,"y":87.5,"v":7.5},{"x":14.25,"y":92.5,"v":8.5},
{"x":14.75,"y":7.5,"v":3.7},{"x":14.75,"y":12.5,"v":3.4},{"x":14.75,"y":17.5,"v":3.3},{"x":14.75,"y":22.5,"v":3.7},{"x":14.75,"y":27.5,"v":4.5},{"x":14.75,"y":32.5,"v":4.9},{"x":14.75,"y":37.5,"v":5.2},{"x":14.75,"y":42.5,"v":5.5},{"x":14.75,"y":47.5,"v":5.7},{"x":14.75,"y":52.5,"v":5.9},{"x":14.75,"y":57.5,"v":6.1},{"x":14.75,"y":62.5,"v":6.2},{"x":14.75,"y":67.5,"v":6.3},{"x":14.75,"y":72.5,"v":6.4},{"x":14.75,"y":77.5,"v":6.6},{"x":14.75,"y":82.5,"v":7.0},{"x":14.75,"y":87.5,"v":7.7},{"x":14.75,"y":92.5,"v":8.7},
{"x":15.25,"y":7.5,"v":3.9},{"x":15.25,"y":12.5,"v":3.6},{"x":15.25,"y":17.5,"v":3.6},{"x":15.25,"y":22.5,"v":3.9},{"x":15.25,"y":27.5,"v":4.8},{"x":15.25,"y":32.5,"v":5.2},{"x":15.25,"y":37.5,"v":5.6},{"x":15.25,"y":42.5,"v":5.9},{"x":15.25,"y":47.5,"v":6.1},{"x":15.25,"y":52.5,"v":6.3},{"x":15.25,"y":57.5,"v":6.5},{"x":15.25,"y":62.5,"v":6.6},{"x":15.25,"y":67.5,"v":6.7},{"x":15.25,"y":72.5,"v":6.8},{"x":15.25,"y":77.5,"v":7.0},{"x":15.25,"y":82.5,"v":7.3},{"x":15.25,"y":87.5,"v":7.9},{"x":15.25,"y":92.5,"v":8.8},
{"x":15.75,"y":7.5,"v":4.3},{"x":15.75,"y":12.5,"v":4.1},{"x":15.75,"y":17.5,"v":4.1},{"x":15.75,"y":22.5,"v":4.4},{"x":15.75,"y":27.5,"v":5.2},{"x":15.75,"y":32.5,"v":5.6},{"x":15.75,"y":37.5,"v":6.0},{"x":15.75,"y":42.5,"v":6.3},{"x":15.75,"y":47.5,"v":6.5},{"x":15.75,"y":52.5,"v":6.7},{"x":15.75,"y":57.5,"v":6.9},{"x":15.75,"y":62.5,"v":7.0},{"x":15.75,"y":67.5,"v":7.1},{"x":15.75,"y":72.5,"v":7.2},{"x":15.75,"y":77.5,"v":7.4},{"x":15.75,"y":82.5,"v":7.6},{"x":15.75,"y":87.5,"v":8.1},{"x":15.75,"y":92.5,"v":8.9},{"x":15.75,"y":97.5,"v":9.4},
{"x":16.25,"y":7.5,"v":4.7},{"x":16.25,"y":12.5,"v":4.6},{"x":16.25,"y":17.5,"v":4.6},{"x":16.25,"y":22.5,"v":4.9},{"x":16.25,"y":27.5,"v":5.5},{"x":16.25,"y":32.5,"v":5.9},{"x":16.25,"y":37.5,"v":6.3},{"x":16.25,"y":42.5,"v":6.6},{"x":16.25,"y":47.5,"v":6.9},{"x":16.25,"y":52.5,"v":7.1},{"x":16.25,"y":57.5,"v":7.3},{"x":16.25,"y":62.5,"v":7.5},{"x":16.25,"y":67.5,"v":7.6},{"x":16.25,"y":72.5,"v":7.7},{"x":16.25,"y":77.5,"v":7.9},{"x":16.25,"y":82.5,"v":8.2},{"x":16.25,"y":87.5,"v":8.8},
{"x":16.75,"y":7.5,"v":5.2},{"x":16.75,"y":12.5,"v":5.0},{"x":16.75,"y":17.5,"v":5.0},{"x":16.75,"y":22.5,"v":5.3},{"x":16.75,"y":27.5,"v":5.8},{"x":16.75,"y":32.5,"v":6.2},{"x":16.75,"y":37.5,"v":6.6},{"x":16.75,"y":42.5,"v":7.0},{"x":16.75,"y":47.5,"v":7.3},{"x":16.75,"y":52.5,"v":7.6},{"x":16.75,"y":57.5,"v":7.8},{"x":16.75,"y":62.5,"v":8.0},{"x":16.75,"y":67.5,"v":8.1},{"x":16.75,"y":72.5,"v":8.2},{"x":16.75,"y":77.5,"v":8.4},{"x":16.75,"y":82.5,"v":8.7},{"x":16.75,"y":87.5,"v":9.2},
{"x":17.25,"y":12.5,"v":5.6},{"x":17.25,"y":17.5,"v":5.5},{"x":17.25,"y":22.5,"v":5.7},{"x":17.25,"y":27.5,"v":6.0},{"x":17.25,"y":32.5,"v":6.4},{"x":17.25,"y":37.5,"v":6.8},{"x":17.25,"y":42.5,"v":7.3},{"x":17.25,"y":47.5,"v":7.7},{"x":17.25,"y":52.5,"v":8.0},{"x":17.25,"y":57.5,"v":8.2},{"x":17.25,"y":62.5,"v":8.4},{"x":17.25,"y":67.5,"v":8.5},{"x":17.25,"y":72.5,"v":8.6},{"x":17.25,"y":77.5,"v":8.8},{"x":17.25,"y":82.5,"v":9.1},
{"x":17.75,"y":17.5,"v":6.0},{"x":17.75,"y":22.5,"v":6.2},{"x":17.75,"y":27.5,"v":6.4},{"x":17.75,"y":32.5,"v":6.8},{"x":17.75,"y":37.5,"v":7.2},{"x":17.75,"y":42.5,"v":7.7},{"x":17.75,"y":47.5,"v":8.2},{"x":17.75,"y":52.5,"v":8.6},{"x":17.75,"y":57.5,"v":8.9},{"x":17.75,"y":62.5,"v":9.0},{"x":17.75,"y":67.5,"v":9.1},{"x":17.75,"y":72.5,"v":9.2},{"x":17.75,"y":77.5,"v":9.3},{"x":17.75,"y":82.5,"v":9.4},
{"x":18.25,"y":17.5,"v":6.5},{"x":18.25,"y":22.5,"v":6.6},{"x":18.25,"y":27.5,"v":6.8},{"x":18.25,"y":32.5,"v":7.0},{"x":18.25,"y":37.5,"v":7.3},{"x":18.25,"y":52.5,"v":8.6},
{"x":18.75,"y":22.5,"v":6.9},{"x":18.75,"y":27.5,"v":7.3},{"x":18.75,"y":32.5,"v":7.6},
{"x":19.25,"y":22.5,"v":7.6},{"x":19.25,"y":32.5,"v":7.8}
],
"la":[{"x":4.5,"y":67,"t":"F"},{"x":12.6,"y":66.4,"t":"U"},{"x":3.6,"y":36.2,"t":"NS"},{"x":3.95,"y":15,"t":"B"},{"x":12.56,"y":22.6,"t":"NS"}],
"sa":[{"x":4.9,"y":28.8,"t":"F"},{"x":4.74,"y":8.3,"t":"F"},{"x":13.96,"y":14.9,"t":"U"}],
"lb":[{"x":6.3,"y":68.4,"t":"I"},{"x":12.56,"y":68.4,"t":"U"},{"x":6.07,"y":36.3,"t":"NS"},{"x":6.24,"y":16.1,"t":"B"},{"x":12.5,"y":20,"t":"NS"}],
"sb":[{"x":7.2,"y":29.3,"t":"I"},{"x":6.9,"y":9.5,"t":"I"},{"x":13.96,"y":11,"t":"U"}]
},
"vconcat":[
{"width":570,"height":284,
"title":{"text":"A","orient":"left","anchor":"end","angle":0,"align":"left","frame":"group","fontSize":56,"fontWeight":"bold","color":"#111111","dy":9,"offset":18,"baseline":"alphabetic"},
"layer":[
{"data":{"name":"a"},"mark":{"type":"rect","width":14.8,"height":13.4},
"encoding":{
"x":{"field":"x","type":"quantitative","scale":{"domain":[0,20],"nice":false,"zero":false},"axis":{"orient":"bottom","values":[0,2,4,6,8,10,12,14,16,18,20],"title":"Im7₆₋₄₅ RMSD from native (Å)","labelPadding":38,"titlePadding":14}},
"y":{"field":"y","type":"quantitative","scale":{"domain":[0,110],"nice":false,"zero":false},"axis":{"orient":"left","values":[0,20,40,60,80,100],"title":"Separation distance (Å)","labelPadding":35,"titlePadding":17}},
"color":{"field":"v","type":"quantitative","scale":{"domain":[0,1,2,2.5,3,4,5,6,7,8,9,10],"range":["#5c4a98","#4a5ca8","#3b8ccb","#38b2de","#58bdc0","#7dc7a9","#a3d19f","#c8dc84","#f2bd6c","#ef8c54","#e4603f","#d9372d"],"interpolate":"rgb"},
"legend":{"orient":"none","legendX":582,"legendY":1,"direction":"vertical","title":null,"gradientLength":282,"gradientThickness":29,"gradientStrokeColor":"black","gradientStrokeWidth":2,"values":[0,1,2,3,4,5,6,7,8,9,10],"labelFontSize":26,"labelOffset":25,"labelBaseline":"middle","labelColor":"black","labelOverlap":false,"padding":0,"encode":{"labels":{"update":{"baseline":{"value":"middle"}}}}}}}},
{"data":{"name":"la"},"mark":{"type":"text","color":"white","fontSize":41,"fontWeight":"bold","align":"center","baseline":"middle"},
"encoding":{
"x":{"field":"x","type":"quantitative","scale":{"domain":[0,20],"nice":false,"zero":false},"axis":{"orient":"top","values":[0,2,4,6,8,10,12,14,16,18,20],"labels":false,"title":null}},
"y":{"field":"y","type":"quantitative","scale":{"domain":[0,110],"nice":false,"zero":false},"axis":{"orient":"right","values":[0,20,40,60,80,100],"labels":false,"title":null}},
"text":{"field":"t"}}},
{"data":{"name":"sa"},"mark":{"type":"text","color":"white","fontSize":25,"fontWeight":"bold","align":"center","baseline":"middle"},
"encoding":{
"x":{"field":"x","type":"quantitative","scale":{"domain":[0,20],"nice":false,"zero":false},"axis":null},
"y":{"field":"y","type":"quantitative","scale":{"domain":[0,110],"nice":false,"zero":false},"axis":null},
"text":{"field":"t"}}}
],
"resolve":{"axis":{"x":"independent","y":"independent"}}},
{"width":570,"height":284,
"title":{"text":"B","orient":"left","anchor":"end","angle":0,"align":"left","frame":"group","fontSize":56,"fontWeight":"bold","color":"#111111","dy":11,"offset":18,"baseline":"alphabetic"},
"layer":[
{"data":{"name":"b"},"mark":{"type":"rect","width":14.8,"height":13.4},
"encoding":{
"x":{"field":"x","type":"quantitative","scale":{"domain":[0,20],"nice":false,"zero":false},"axis":{"orient":"bottom","values":[0,2,4,6,8,10,12,14,16,18,20],"title":"Im7₆₋₄₅ RMSD from native (Å)","labelPadding":38,"titlePadding":12}},
"y":{"field":"y","type":"quantitative","scale":{"domain":[0,110],"nice":false,"zero":false},"axis":{"orient":"left","values":[0,20,40,60,80,100],"title":"Separation distance (Å)","labelPadding":35,"titlePadding":17}},
"color":{"field":"v","type":"quantitative","scale":{"domain":[0,1,2,2.5,3,4,5,6,7,8,9,10],"range":["#5c4a98","#4a5ca8","#3b8ccb","#38b2de","#58bdc0","#7dc7a9","#a3d19f","#c8dc84","#f2bd6c","#ef8c54","#e4603f","#d9372d"],"interpolate":"rgb"},
"legend":{"orient":"none","legendX":582,"legendY":1,"direction":"vertical","title":null,"gradientLength":282,"gradientThickness":29,"gradientStrokeColor":"black","gradientStrokeWidth":2,"values":[0,1,2,3,4,5,6,7,8,9,10],"labelFontSize":26,"labelOffset":25,"labelBaseline":"middle","labelColor":"black","labelOverlap":false,"padding":0,"encode":{"labels":{"update":{"baseline":{"value":"middle"}}}}}}}},
{"data":{"name":"lb"},"mark":{"type":"text","color":"white","fontSize":41,"fontWeight":"bold","align":"center","baseline":"middle"},
"encoding":{
"x":{"field":"x","type":"quantitative","scale":{"domain":[0,20],"nice":false,"zero":false},"axis":{"orient":"top","values":[0,2,4,6,8,10,12,14,16,18,20],"labels":false,"title":null}},
"y":{"field":"y","type":"quantitative","scale":{"domain":[0,110],"nice":false,"zero":false},"axis":{"orient":"right","values":[0,20,40,60,80,100],"labels":false,"title":null}},
"text":{"field":"t"}}},
{"data":{"name":"sb"},"mark":{"type":"text","color":"white","fontSize":25,"fontWeight":"bold","align":"center","baseline":"middle"},
"encoding":{
"x":{"field":"x","type":"quantitative","scale":{"domain":[0,20],"nice":false,"zero":false},"axis":null},
"y":{"field":"y","type":"quantitative","scale":{"domain":[0,110],"nice":false,"zero":false},"axis":null},
"text":{"field":"t"}}}
],
"resolve":{"axis":{"x":"independent","y":"independent"}}}
],
"spacing":27,
"resolve":{"scale":{"color":"independent"}}
}
